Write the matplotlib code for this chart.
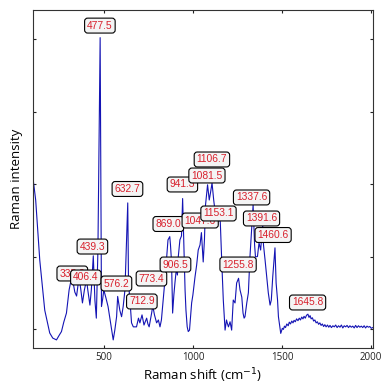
import matplotlib
matplotlib.use("Agg")
import matplotlib.pyplot as plt

# Spectrum (Raman shift cm^-1, intensity a.u.)
shift = [100, 115, 138, 166, 194, 211, 232, 245, 260, 273, 288, 303, 312, 325, 335,
         345, 359, 369, 378, 389, 401, 408, 420, 428, 439, 448, 456, 465, 477.5,
         485, 492, 498, 510, 522, 538, 551, 560, 570, 576, 588, 598, 607, 617, 632.7,
         637, 645, 654, 664, 682, 693, 701, 713, 724, 739, 746, 753, 767, 773.4,
         783, 795, 805, 814, 822, 832, 842, 851, 859, 869, 873, 879, 885, 892, 898,
         906.5, 912, 917, 926, 935, 941.3, 949, 955, 960, 967, 973, 980, 992, 999,
         1011, 1020, 1029, 1039, 1047, 1057, 1064, 1070, 1081.5, 1091, 1098, 1106.7,
         1116, 1125, 1133, 1143, 1153.1, 1161, 1170, 1180, 1188, 1192, 1199, 1208,
         1217, 1226, 1236, 1245, 1255.8, 1264, 1274, 1281, 1287, 1292, 1302, 1311,
         1320, 1329, 1337.6, 1346, 1351, 1362, 1371, 1380, 1391.6, 1396, 1405, 1423,
         1433, 1440, 1448, 1460.6, 1467, 1475, 1480, 1493, 1497, 1502, 1508, 1514,
         1520, 1527, 1535, 1541, 1548, 1555, 1562, 1568, 1575, 1582, 1590, 1597,
         1604, 1611, 1618, 1624, 1631, 1638, 1645.8, 1652, 1658, 1664, 1671, 1678,
         1685, 1692, 1699, 1706, 1713, 1720, 1727, 1734, 1741, 1748, 1756, 1763,
         1770, 1778, 1786, 1794, 1802, 1810, 1818, 1826, 1834, 1842, 1850, 1858,
         1866, 1874, 1882, 1890, 1898, 1906, 1914, 1922, 1930, 1938, 1946, 1954,
         1962, 1970, 1978, 1986, 1994, 2002, 2010]
intensity = [2080, 1780, 950, 260, -55, -125, -150, -95, -35, 95, 220, 540, 650, 650, 510,
             455, 720, 540, 360, 540, 680, 540, 330, 540, 1010, 400, 150, 1090, 4020,
             310, 420, 540, 430, 310, 55, -150, -15, 170, 450, 260, 170, 310, 540, 1740,
             635, 400, 85, 30, 30, 150, 85, 195, 55, 150, 70, 30, 220, 320,
             195, 85, 125, 30, 125, 400, 680, 980, 1230, 1275, 1160, 925, 220, 470, 635,
             840, 745, 1000, 1230, 1285, 1800, 1090, 540, 260, 30, -35, -15, 360, 470,
             720, 880, 1090, 1160, 1330, 925, 1230, 1710, 1990, 1780, 1880, 2015,
             1780, 1600, 1560, 1520, 1480, 950, 400, -15, 125, 85, 30, 100,
             -15, 400, 360, 635, 700, 540, 440, 220, 150, 170, 360, 500,
             1000, 1370, 1710, 1160, 995, 1000, 1190, 1090, 1440, 1160, 950, 500,
             330, 400, 720, 1120, 635, 400, 170, -60, -30, 10, -5, 40,
             20, 70, 45, 95, 70, 110, 85, 120, 100, 140, 115, 150,
             125, 165, 140, 175, 150, 190, 205, 160, 185, 140, 155, 110,
             125, 85, 100, 65, 85, 50, 70, 35, 60, 30, 55, 25,
             50, 20, 45, 30, 55, 20, 45, 25, 55, 15, 45, 30,
             50, 20, 45, 25, 40, 15, 50, 20, 45, 25, 40, 20,
             45, 15, 40, 25, 35, 10, 20]

peak_labels = ["477.5", "632.7", "439.3", "335.2", "406.4", "576.2", "773.4", "712.9",
               "869.0", "906.5", "1047.6", "941.3", "1081.5", "1106.7", "1153.1",
               "1255.8", "1337.6", "1391.6", "1460.6", "1645.8"]
label_x = [476, 631, 434, 321, 397, 569, 766, 712, 861, 901, 1040, 940, 1078, 1106,
           1143, 1253, 1329, 1385, 1450, 1644]
label_y = [4186, 1932, 1138, 766, 711, 628, 697, 380, 1449, 890, 1497, 1994, 2118, 2339,
           1594, 890, 1815, 1525, 1297, 366]

fig = plt.figure(figsize=(3.87, 3.88), dpi=100)
ax = fig.add_axes([0.0853, 0.1023, 0.963 - 0.0853, 0.974 - 0.1023])
ax.plot(shift, intensity, color="#1414b4", lw=0.8)

for t, x, y in zip(peak_labels, label_x, label_y):
    ax.text(x, y, t, ha="center", va="center", fontsize=7.4, color="#d8202c",
            family="Liberation Sans",
            bbox=dict(boxstyle="round,pad=0.24,rounding_size=0.3", fc="#f4f4f4",
                      ec="black", lw=0.8))

ax.set_xlim(100, 2010)
ax.set_ylim(-266, 4400)
ax.set_xticks([500, 1000, 1500, 2000])
ax.set_yticks([0, 1000, 2000, 3000, 4000])
ax.set_yticklabels([])
ax.tick_params(direction="in", top=True, right=True, length=2.5, width=0.8,
               labelsize=7, colors="#222222", pad=3)
for lab in ax.get_xticklabels():
    lab.set_family("Open Sans")
for s in ax.spines.values():
    s.set_color("#333333")
    s.set_linewidth(0.8)
ax.set_xlabel("Raman shift (cm$^{-1}$)", fontsize=9.5, family="Open Sans", labelpad=2)
ax.set_ylabel("Raman intensity", fontsize=9.5, family="Open Sans", labelpad=4)

fig.savefig("out.png", dpi=100)
